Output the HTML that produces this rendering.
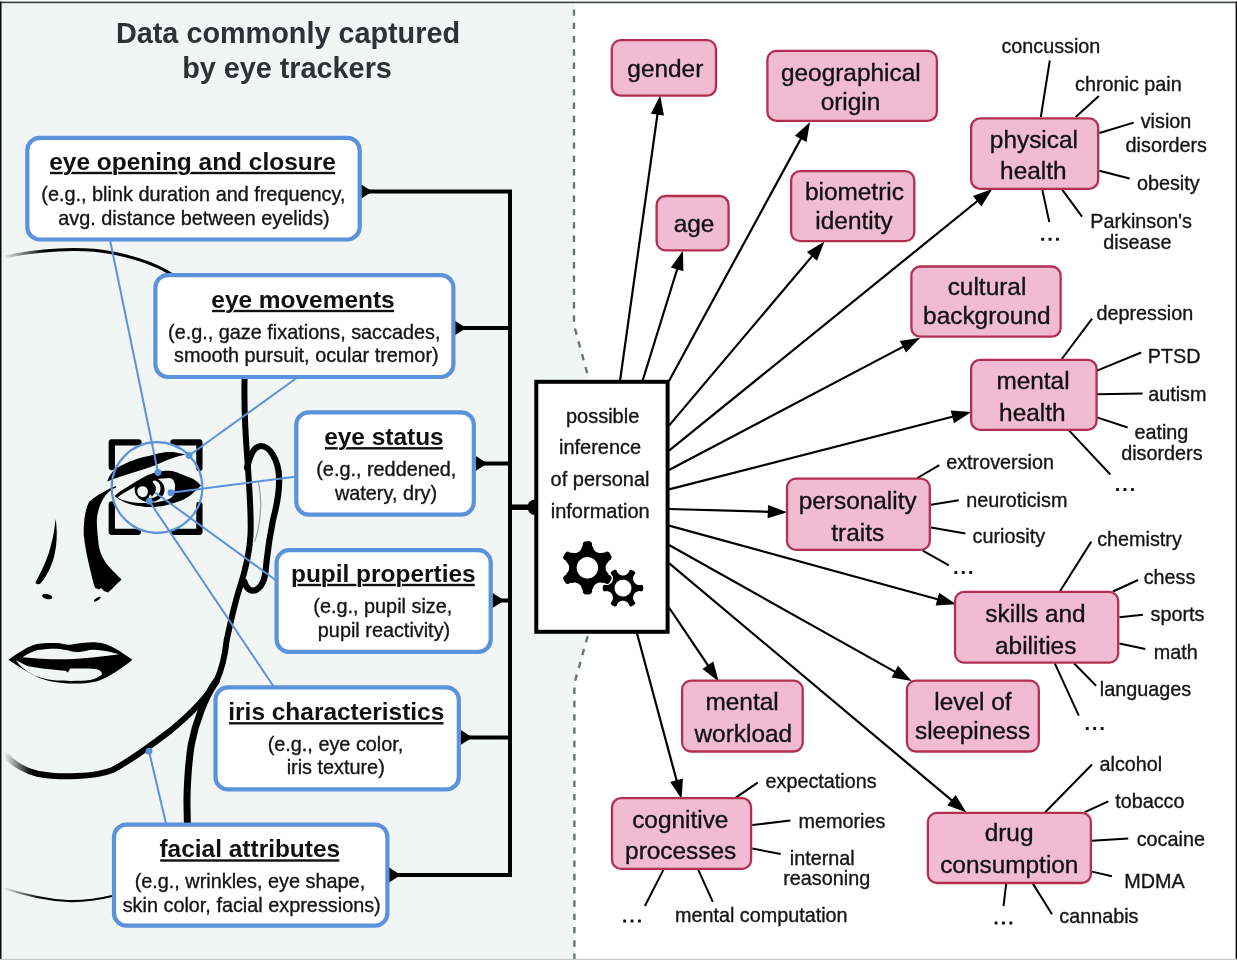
<!DOCTYPE html>
<html><head><meta charset="utf-8"><title>Eye tracking inference diagram</title>
<style>
html,body{margin:0;padding:0;background:#fff;}
body{width:1237px;height:960px;overflow:hidden;}
svg{display:block;font-family:"Liberation Sans", sans-serif;will-change:transform;}
</style></head>
<body>
<svg width="1237" height="960" viewBox="0 0 1237 960">
<defs>
<linearGradient id="fadeL" gradientUnits="userSpaceOnUse" x1="3" y1="0" x2="45" y2="0"><stop offset="0" stop-color="#000" stop-opacity="0"/><stop offset="1" stop-color="#000"/></linearGradient>
<linearGradient id="fadeL2" gradientUnits="userSpaceOnUse" x1="4" y1="0" x2="32" y2="0"><stop offset="0" stop-color="#000" stop-opacity="0"/><stop offset="1" stop-color="#000"/></linearGradient>
<linearGradient id="fadeL3" gradientUnits="userSpaceOnUse" x1="3" y1="0" x2="40" y2="0"><stop offset="0" stop-color="#000" stop-opacity="0"/><stop offset="1" stop-color="#000"/></linearGradient>
</defs>
<rect x="0" y="0" width="1237" height="960" fill="#ffffff"/>
<path d="M0,3 H574 V325 L587.6,375 V636 L574.4,683 V960 H0 Z" fill="#f1f5f4"/>
<path d="M574,9.4 V325 L587.6,374.5" fill="none" stroke="#647777" stroke-width="2.4" stroke-dasharray="6.4 6.9"/>
<path d="M587.7,636.2 L574.4,683.5 V960" fill="none" stroke="#647777" stroke-width="2.4" stroke-dasharray="6.4 6.9"/>
<text x="288.0" y="43.3" font-size="28.8" font-weight="bold" fill="#2b3336" text-anchor="middle">Data commonly captured</text>
<text x="287.0" y="77.7" font-size="28.8" font-weight="bold" fill="#2b3336" text-anchor="middle">by eye trackers</text>
<g><path d="M5,257 C35,250 80,246.5 113,253 C140,258.5 160,266 174,276" fill="none" stroke="url(#fadeL)" stroke-width="2.9"/><path d="M244.6,378 C244,400 245,430 247.5,461 C249.5,490 251.5,515 250.5,535 C249.5,555 245,572 239,590 C234,606 230,625 226.7,640 C225,656 221.5,670 216.5,681 C209,694 192,713 170,731 C150,746 132,760 112.5,770 C95,777 60,778 37.5,773.7 C25,771 12,763 4,754" fill="none" stroke="url(#fadeL2)" stroke-width="6" stroke-linecap="round"/><path d="M216,681.5 C205,697 195.5,722 191.2,745 C188.4,762 186.8,790 187,805 L187.4,825" fill="none" stroke="#000" stroke-width="7" stroke-linecap="round"/><path d="M247,468 C250,455 254,446 261,446 C270,446 278,460 279,476 C280,492 277,505 273,520 C270,535 268,548 266.5,562 C265.5,575 264.5,585 256,590 C250,592 246,588 244.5,582" fill="none" stroke="#000" stroke-width="6.2" stroke-linecap="round"/><path d="M258.4,481 C261,495 261,505 260.4,512 C259.5,525 257,535 254.5,542.3" fill="none" stroke="#9aa3a3" stroke-width="1.2"/><path d="M3,888 C25,895 45,900 68,901 C85,901.5 100,899 112,896" fill="none" stroke="url(#fadeL3)" stroke-width="2.2"/><path d="M116,486 C108,489 96,495.5 89,502 C85,510 83.5,522 83.7,534.2 C85,548 88,561 91,573 C92.5,580 94,585 95.2,588 L99,589.5 L101,588 L104,591 L108,592.4 L112,589 C116,585 119,582 121.6,579.6 C115,573 109,567 106.7,564 C101,556 98.6,548 98.3,541 C97.5,533 96.6,525 96.9,519.2 C97.4,512 99.5,505 103.3,498.8 C106,494 110,490 116,487.6 Z" fill="#000"/><path d="M55.6,519 C57.5,530 57.2,545 54,557 C51,568 46,577 40.5,583.5 C38.5,584.5 36,584.5 35.5,582.5 C40,574 45,564 48.5,554 C52,543 54.5,531 55.6,519 Z" fill="#000"/><ellipse cx="47.2" cy="596.6" rx="5.2" ry="2.4" transform="rotate(14 47.2 596.6)" fill="#000"/><ellipse cx="97.3" cy="599.2" rx="4" ry="1.3" transform="rotate(-32 97.3 599.2)" fill="#000"/><path d="M8.5,659.7 C20,652 29,645.5 37.3,644.1 C45,642.5 52,643 56.6,643 C62,643 66,645.3 70.2,644.7 C80,643.5 88,641.8 96.2,642.4 C110,643 121,652 132.4,659.7 C122,668 110,677 96.2,681.5 C85,684 75,683.6 67.9,683.4 C55,683 42,680 34,675.3 C24,670 15,664 8.5,659.7 Z" fill="#000"/><path d="M22.6,657.3 C30,652.5 35,650.3 39.6,649.8 C45,649.1 50,648.6 56.6,648.7 C65,649 72,652.1 79.2,652.1 C85,651.6 89,649.5 93.9,649.8 C105,650.5 113,652.5 118.8,654.3 C100,656.7 85,658.6 67.9,659.3 C50,659.5 35,658.6 22.6,657.3 Z" fill="#f1f5f4"/><path d="M15.8,660.2 C21,662.5 25,665 28.3,666.3 C40,668.6 55,670 65.6,670.8 L67.9,672.6 L70.2,668.6 C80,668.5 90,668.5 96.2,669.1 C100,670 102.3,672 101.9,674.7 C98,677.4 94,679.3 90.5,680 C80,681.2 65,681 56.6,680.5 C45,679.4 37,676.8 32.2,674.2 C25,670.5 19.5,665.5 15.8,660.2 Z" fill="#f1f5f4"/><path d="M111.8,467 V442.4 H138.5 M173.5,442.4 H199.4 V468 M111.8,504.5 V531.8 H138 M174,531.8 H199.4 V505" fill="none" stroke="#000" stroke-width="6.3" stroke-linejoin="round" stroke-linecap="round"/><path d="M107.2,481.4 C108.2,478.5 109.6,475.8 111.3,473.6 C113,471.2 115,469.2 117.1,467.8 C119.5,466.3 122,465 124.4,463.9 C127.6,462.5 130.8,461.1 134.1,460 C137.3,458.9 140.5,457.9 143.8,457.1 C147,456.3 150.2,455.4 153.5,454.7 C157.3,453.8 161.1,452.8 165,452.3 C168.7,451.9 172.3,451.9 176,452.4 C179.3,452.9 182.6,453.6 185.7,454.6 C182.2,455.6 178.6,456.2 175,457.2 C171.6,458.3 168.3,459.7 165,461 C161.2,462.7 157.4,464.5 153.5,465.9 C147.1,468.2 140.6,470.2 134.1,472.2 C129.4,473.7 124.7,475.3 120,476.8 C115.8,478.2 111.5,479.7 107.2,481.4 Z" fill="#000"/><path d="M114.5,496 C116.5,494.2 118.2,492.8 120,491.5 C122.5,489.8 125.3,488.2 128,486.5 C130.8,484.8 133.4,483.1 136,481.5 C139,479.7 142,478 145,476.5 C148.8,474.6 152.6,473.2 156.6,472.3 C160.6,471.3 164.6,470.6 168.7,470.7 C172.9,470.9 176.9,472.3 180.8,474 C185,475.7 189.1,477.1 193,478.8 C195.8,480.7 198.4,483 201,485.4 C198,488.4 195,491.4 192,494 C188.3,497.1 184.3,499.4 180,501 C175.1,502.8 170.1,504.4 165,505.5 C160,506.5 155,507.1 150,507 C145,507 140,506.4 135,505.5 C131.1,504.6 127.5,503.4 124,502 C120.6,500.3 117.4,498.3 114.5,496 Z" fill="#000"/><path d="M117.8,497.2 C119.4,496 121.2,494.7 123,493.5 C125.3,492.1 127.7,490.8 130,489.5 C132.3,488.2 134.7,487 137,485.8 L150,480 C154.3,479.3 158.7,478.7 163,478.5 C165,478.3 167,478 169,478 C171,478.2 172.6,479 173.5,480.5 C175,483 175.3,485.5 175,488 C174.7,490.8 174,493.5 173,496 C171.6,497.6 170,498.7 168,499.5 C163.7,500.9 159.4,501.9 155,502.5 C150,503 145,503.2 140,503 C135.9,502.8 131.9,502.3 128,501.5 C125.6,501 123.3,500.3 121,499.5 C119.9,498.8 118.8,498 117.8,497.2 Z" fill="#f1f5f4"/><ellipse cx="149.6" cy="489.6" rx="15" ry="12.6" fill="#000"/><path d="M137.4,490.2 C138.3,486.8 141.2,485.6 144.2,486.4 C147.4,487.4 148.4,490.6 147.6,493.6 C146.8,496.4 144.6,497.6 142,497 C138.8,496.2 136.6,493.4 137.4,490.2 Z" fill="#f1f5f4"/><path d="M154.2,480.6 C158.4,481.2 160.8,484.8 160.5,489 C160.2,493 158,496.2 153.8,497.8 C152.2,498.2 151.2,497.2 152.4,496.1 C155.2,493.6 156.2,490.6 155.8,487.6 C155.4,485.2 154.2,483.6 152.9,482.6 C152.5,481.3 153.1,480.5 154.2,480.6 Z" fill="#f1f5f4"/><path d="M150.2,494.5 C151.5,495.5 152.3,496.8 151.8,498 C151,499 149.6,498.8 148.8,498 C148.4,497 149.2,495.4 150.2,494.5 Z" fill="#f1f5f4"/></g>
<g stroke="#5b92dc" stroke-width="2" fill="none">
<circle cx="157" cy="487.5" r="45.3" stroke-width="2.2"/>
<line x1="110" y1="240" x2="158" y2="472.5"/>
<line x1="296.6" y1="378" x2="189.1" y2="455.5"/>
<line x1="295" y1="476.7" x2="170.9" y2="492.7"/>
<line x1="155.5" y1="492.7" x2="275.5" y2="580"/>
<line x1="149.3" y1="501.2" x2="273.3" y2="686"/>
<line x1="149" y1="751.2" x2="165.9" y2="823"/>
</g>
<g fill="#5b92dc">
<circle cx="158" cy="472.5" r="3.4"/>
<circle cx="189.1" cy="455.5" r="3.4"/>
<circle cx="170.9" cy="492.7" r="3.4"/>
<circle cx="149.3" cy="501.2" r="3.4"/>
<circle cx="149" cy="751.2" r="3.4"/>
</g>
<g stroke="#000" stroke-width="4" fill="none">
<path d="M361,191.5 H510 V875 H389"/>
<line x1="455" y1="328" x2="510" y2="328"/>
<line x1="476" y1="463.4" x2="510" y2="463.4"/>
<line x1="493" y1="600.5" x2="510" y2="600.5"/>
<line x1="461" y1="737.4" x2="510" y2="737.4"/>
<line x1="510" y1="507.2" x2="534" y2="507.2" stroke-width="5.5"/>
</g>
<g fill="#000">
<path d="M360.5,183.9 L372.3,191.5 L360.5,199.1 Z"/>
<path d="M454.5,320.4 L466.3,328 L454.5,335.6 Z"/>
<path d="M475.5,455.79999999999995 L487.3,463.4 L475.5,471.0 Z"/>
<path d="M492.5,592.9 L504.3,600.5 L492.5,608.1 Z"/>
<path d="M460.5,729.8 L472.3,737.4 L460.5,745.0 Z"/>
<path d="M389.0,867.4 L400.8,875 L389.0,882.6 Z"/>
<path d="M535,499.5 A7.7,7.7 0 0 0 535,514.9 Z"/>
</g>
<rect x="27.3" y="137.8" width="332.4" height="101.7" rx="12.5" fill="#fff" stroke="#5b92dc" stroke-width="4.2"/>
<rect x="50.0" y="171.8" width="285.1" height="2.4" fill="#111"/>
<text x="192.5" y="169.6" font-size="24.45" font-weight="bold" fill="#111" text-anchor="middle" stroke="#fff" stroke-width="2.6" paint-order="stroke" stroke-linejoin="round">eye opening and closure</text>
<text x="193.4" y="200.7" font-size="19.85" font-weight="normal" fill="#151515" text-anchor="middle" stroke="#151515" stroke-width="0.35">(e.g., blink duration and frequency,</text>
<text x="194.0" y="224.9" font-size="19.85" font-weight="normal" fill="#151515" text-anchor="middle" stroke="#151515" stroke-width="0.35">avg. distance between eyelids)</text>
<rect x="155.4" y="275.1" width="298.0" height="101.9" rx="12.5" fill="#fff" stroke="#5b92dc" stroke-width="4.2"/>
<rect x="212.1" y="309.8" width="181.9" height="2.4" fill="#111"/>
<text x="303.0" y="307.6" font-size="24.45" font-weight="bold" fill="#111" text-anchor="middle" stroke="#fff" stroke-width="2.6" paint-order="stroke" stroke-linejoin="round">eye movements</text>
<text x="304.3" y="339.1" font-size="19.85" font-weight="normal" fill="#151515" text-anchor="middle" stroke="#151515" stroke-width="0.35">(e.g., gaze fixations, saccades,</text>
<text x="306.3" y="362.4" font-size="19.85" font-weight="normal" fill="#151515" text-anchor="middle" stroke="#151515" stroke-width="0.35">smooth pursuit, ocular tremor)</text>
<rect x="296.3" y="412.3" width="177.5" height="102.4" rx="12.5" fill="#fff" stroke="#5b92dc" stroke-width="4.2"/>
<rect x="324.9" y="447.1" width="118.0" height="2.4" fill="#111"/>
<text x="383.9" y="444.9" font-size="24.45" font-weight="bold" fill="#111" text-anchor="middle" stroke="#fff" stroke-width="2.6" paint-order="stroke" stroke-linejoin="round">eye status</text>
<text x="386.3" y="475.9" font-size="19.85" font-weight="normal" fill="#151515" text-anchor="middle" stroke="#151515" stroke-width="0.35">(e.g., reddened,</text>
<text x="386.0" y="500.1" font-size="19.85" font-weight="normal" fill="#151515" text-anchor="middle" stroke="#151515" stroke-width="0.35">watery, dry)</text>
<rect x="276.6" y="550.2" width="214.1" height="101.7" rx="12.5" fill="#fff" stroke="#5b92dc" stroke-width="4.2"/>
<rect x="291.7" y="583.8" width="183.1" height="2.4" fill="#111"/>
<text x="383.3" y="581.6" font-size="24.45" font-weight="bold" fill="#111" text-anchor="middle" stroke="#fff" stroke-width="2.6" paint-order="stroke" stroke-linejoin="round">pupil properties</text>
<text x="382.8" y="612.6" font-size="19.85" font-weight="normal" fill="#151515" text-anchor="middle" stroke="#151515" stroke-width="0.35">(e.g., pupil size,</text>
<text x="384.0" y="636.7" font-size="19.85" font-weight="normal" fill="#151515" text-anchor="middle" stroke="#151515" stroke-width="0.35">pupil reactivity)</text>
<rect x="215.5" y="687.3" width="243.3" height="102.1" rx="12.5" fill="#fff" stroke="#5b92dc" stroke-width="4.2"/>
<rect x="229.0" y="722.1" width="214.5" height="2.4" fill="#111"/>
<text x="336.3" y="719.9" font-size="24.45" font-weight="bold" fill="#111" text-anchor="middle" stroke="#fff" stroke-width="2.6" paint-order="stroke" stroke-linejoin="round">iris characteristics</text>
<text x="335.5" y="750.9" font-size="19.85" font-weight="normal" fill="#151515" text-anchor="middle" stroke="#151515" stroke-width="0.35">(e.g., eye color,</text>
<text x="335.7" y="774.1" font-size="19.85" font-weight="normal" fill="#151515" text-anchor="middle" stroke="#151515" stroke-width="0.35">iris texture)</text>
<rect x="114.0" y="824.6" width="273.4" height="101.1" rx="12.5" fill="#fff" stroke="#5b92dc" stroke-width="4.2"/>
<rect x="160.2" y="859.3" width="179.1" height="2.4" fill="#111"/>
<text x="249.8" y="857.1" font-size="24.45" font-weight="bold" fill="#111" text-anchor="middle" stroke="#fff" stroke-width="2.6" paint-order="stroke" stroke-linejoin="round">facial attributes</text>
<text x="249.9" y="888.4" font-size="19.85" font-weight="normal" fill="#151515" text-anchor="middle" stroke="#151515" stroke-width="0.35">(e.g., wrinkles, eye shape,</text>
<text x="251.7" y="912.4" font-size="19.85" font-weight="normal" fill="#151515" text-anchor="middle" stroke="#151515" stroke-width="0.35">skin color, facial expressions)</text>
<rect x="536.3" y="381.8" width="131.3" height="250" fill="#fff" stroke="#000" stroke-width="4"/>
<text x="602.6" y="422.7" font-size="20" font-weight="normal" fill="#151515" text-anchor="middle" stroke="#151515" stroke-width="0.35">possible</text>
<text x="600.1" y="454.3" font-size="20" font-weight="normal" fill="#151515" text-anchor="middle" stroke="#151515" stroke-width="0.35">inference</text>
<text x="600.0" y="486.3" font-size="20" font-weight="normal" fill="#151515" text-anchor="middle" stroke="#151515" stroke-width="0.35">of personal</text>
<text x="600.2" y="517.9" font-size="20" font-weight="normal" fill="#151515" text-anchor="middle" stroke="#151515" stroke-width="0.35">information</text>
<path d="M566.1,560.8 L566.2,561.0 L566.3,561.2 L566.3,561.4 L566.2,561.8 L567.1,562.6 L567.8,563.4 L568.3,564.2 L568.7,565.1 L568.9,565.8 L569.1,566.8 L569.2,567.8 L569.1,568.8 L568.9,570.0 L568.4,571.2 L568.0,571.8 L567.5,572.6 L567.0,573.2 L566.2,573.8 L566.4,574.3 L566.2,574.6 L566.1,574.8 L564.7,575.6 L564.2,576.0 L563.8,576.4 L563.5,576.9 L563.2,577.7 L563.2,578.3 L563.3,579.2 L563.6,579.7 L565.2,582.5 L565.5,583.0 L566.2,583.5 L567.0,583.9 L567.9,584.0 L568.7,583.8 L569.3,583.6 L570.7,582.8 L570.8,582.7 L571.0,582.7 L571.2,582.8 L571.6,583.1 L572.3,582.9 L573.0,582.7 L573.8,582.6 L574.5,582.5 L575.5,582.6 L576.7,582.9 L577.6,583.2 L578.7,583.8 L579.5,584.4 L580.1,585.0 L580.7,585.7 L581.1,586.4 L581.4,587.0 L581.7,587.7 L581.9,588.4 L582.0,589.1 L582.5,589.3 L582.7,589.4 L582.8,589.6 L582.8,591.7 L583.0,592.6 L583.3,593.1 L583.7,593.5 L584.1,593.9 L584.7,594.2 L585.2,594.3 L585.8,594.4 L589.3,594.4 L590.1,594.2 L590.9,593.7 L591.5,593.1 L591.9,592.3 L592.0,591.7 L592.0,589.8 L592.0,589.6 L592.1,589.4 L592.3,589.3 L592.8,589.1 L592.9,588.4 L593.1,587.7 L593.4,587.0 L593.7,586.4 L594.3,585.5 L594.9,584.8 L595.9,584.0 L596.7,583.4 L597.6,583.0 L598.6,582.7 L599.6,582.6 L600.6,582.5 L601.8,582.7 L602.5,582.9 L603.2,583.1 L603.6,582.8 L603.8,582.7 L604.0,582.7 L604.1,582.8 L605.5,583.6 L606.1,583.8 L606.9,584.0 L607.8,583.9 L608.6,583.5 L609.3,583.0 L609.6,582.5 L611.4,579.4 L611.6,578.6 L611.6,578.0 L611.5,577.4 L611.3,576.9 L611.0,576.4 L610.6,576.0 L610.1,575.6 L608.6,574.7 L608.5,574.5 L608.4,574.3 L608.6,573.8 L608.0,573.3 L607.5,572.8 L606.8,571.8 L606.3,570.9 L605.9,570.0 L605.7,569.0 L605.6,567.8 L605.7,566.8 L605.9,565.6 L606.3,564.7 L606.8,563.8 L607.5,562.8 L608.0,562.3 L608.6,561.8 L608.4,561.3 L608.5,561.1 L608.6,560.9 L610.1,560.0 L610.6,559.6 L611.0,559.2 L611.3,558.7 L611.5,558.2 L611.6,557.3 L611.5,556.4 L611.2,555.9 L609.6,553.1 L609.3,552.6 L608.6,552.1 L607.8,551.7 L606.9,551.6 L606.1,551.8 L605.5,552.0 L604.1,552.8 L604.0,552.9 L603.8,552.9 L603.6,552.8 L603.2,552.5 L602.5,552.7 L601.8,552.9 L601.0,553.0 L600.3,553.1 L599.3,553.0 L598.1,552.7 L596.9,552.3 L596.1,551.8 L595.3,551.2 L594.7,550.6 L594.1,549.9 L593.7,549.2 L593.4,548.6 L593.1,547.9 L592.9,547.2 L592.8,546.5 L592.3,546.3 L592.1,546.2 L592.0,546.0 L592.0,543.9 L591.8,543.0 L591.5,542.5 L591.1,542.1 L590.7,541.7 L590.1,541.4 L589.6,541.3 L589.0,541.2 L585.5,541.2 L584.7,541.4 L583.9,541.9 L583.3,542.5 L582.9,543.3 L582.8,543.9 L582.8,545.8 L582.8,546.0 L582.7,546.2 L582.5,546.3 L582.0,546.5 L581.9,547.2 L581.7,547.9 L581.4,548.6 L581.1,549.3 L580.4,550.3 L579.5,551.2 L578.7,551.8 L577.6,552.4 L576.7,552.7 L576.0,552.9 L575.3,553.0 L574.5,553.1 L573.8,553.0 L573.0,552.9 L572.3,552.7 L571.6,552.5 L571.2,552.8 L571.0,552.9 L570.8,552.9 L569.0,551.9 L568.1,551.6 L567.6,551.6 L567.0,551.7 L566.4,551.9 L565.9,552.2 L565.3,552.9 L563.6,555.9 L563.2,556.7 L563.2,557.3 L563.2,557.9 L563.4,558.4 L563.6,559.0 L563.8,559.2 L564.4,559.8ZM598.1,568.1 L598.0,569.1 L597.8,570.1 L597.6,571.1 L597.2,572.1 L596.7,573.1 L596.2,574.0 L595.5,574.8 L594.8,575.5 L594.0,576.2 L593.1,576.8 L592.2,577.4 L591.3,577.8 L590.3,578.1 L589.2,578.3 L588.2,578.5 L587.1,578.5 L586.1,578.4 L585.1,578.2 L584.1,578.0 L583.1,577.6 L582.1,577.1 L581.2,576.6 L580.4,575.9 L579.7,575.2 L579.0,574.4 L578.4,573.5 L577.8,572.6 L577.4,571.7 L577.1,570.7 L576.9,569.6 L576.7,568.6 L576.7,567.5 L576.8,566.5 L577.0,565.5 L577.2,564.5 L577.6,563.5 L578.1,562.5 L578.6,561.6 L579.3,560.8 L580.0,560.1 L580.8,559.4 L581.7,558.8 L582.6,558.2 L583.5,557.8 L584.5,557.5 L585.6,557.3 L586.6,557.1 L587.7,557.1 L588.7,557.2 L589.7,557.4 L590.7,557.6 L591.7,558.0 L592.7,558.5 L593.6,559.0 L594.4,559.7 L595.1,560.4 L595.8,561.2 L596.4,562.1 L597.0,563.0 L597.4,563.9 L597.7,564.9 L597.9,566.0 L598.1,567.0Z" fill="#000" fill-rule="evenodd"/>
<path d="M604.3,584.8 L603.9,585.0 L603.3,585.5 L603.1,585.9 L602.8,586.5 L602.8,587.0 L602.8,589.4 L602.9,589.9 L603.1,590.3 L603.3,590.7 L603.7,591.1 L604.3,591.4 L605.5,591.2 L606.6,591.1 L607.7,591.2 L608.3,591.4 L608.9,591.6 L609.7,592.0 L610.4,592.5 L611.2,593.2 L611.7,593.8 L612.3,594.8 L612.5,595.4 L612.7,596.0 L612.9,597.1 L613.0,597.7 L612.9,598.3 L612.7,599.4 L612.5,600.0 L612.3,600.6 L612.0,601.2 L611.6,601.7 L610.8,602.6 L610.8,603.1 L610.8,603.6 L611.1,604.2 L611.4,604.6 L611.7,604.9 L614.1,606.2 L614.7,606.4 L615.2,606.5 L615.7,606.4 L616.1,606.2 L616.5,605.9 L616.9,604.8 L617.2,604.2 L617.5,603.6 L618.2,602.8 L618.7,602.3 L619.1,601.9 L619.9,601.5 L620.7,601.1 L621.7,600.8 L622.6,600.7 L623.7,600.7 L624.3,600.8 L624.9,601.0 L625.9,601.4 L626.5,601.7 L627.0,602.1 L627.8,602.8 L628.2,603.3 L628.6,603.8 L629.1,604.8 L629.5,605.9 L630.1,606.3 L630.8,606.5 L631.3,606.4 L631.7,606.3 L632.2,606.1 L634.0,605.0 L634.6,604.6 L634.9,604.2 L635.2,603.6 L635.3,602.9 L635.2,602.6 L634.4,601.7 L633.8,600.8 L633.4,599.8 L633.1,598.8 L633.0,597.7 L633.1,597.1 L633.2,596.4 L633.4,595.4 L633.9,594.4 L634.5,593.5 L635.0,593.0 L635.4,592.6 L636.3,592.0 L637.3,591.5 L638.3,591.2 L639.4,591.1 L640.5,591.2 L641.7,591.4 L641.9,591.3 L642.3,591.1 L642.8,590.5 L643.1,589.9 L643.2,589.4 L643.2,587.0 L643.2,586.5 L642.9,585.9 L642.7,585.5 L642.3,585.1 L641.7,584.8 L640.5,585.0 L639.4,585.1 L638.3,585.0 L637.3,584.7 L636.3,584.2 L635.4,583.6 L634.7,582.8 L634.0,582.0 L633.5,581.0 L633.3,580.4 L633.2,579.8 L633.0,578.7 L633.1,577.6 L633.3,576.6 L633.5,576.0 L633.8,575.4 L634.4,574.5 L635.2,573.6 L635.2,573.1 L635.2,572.6 L634.9,572.0 L634.6,571.6 L634.3,571.3 L631.9,570.0 L631.3,569.8 L630.8,569.7 L630.3,569.8 L629.9,570.0 L629.5,570.3 L629.1,571.4 L628.8,572.0 L628.5,572.6 L628.1,573.1 L627.7,573.6 L626.8,574.3 L625.9,574.8 L625.1,575.2 L624.1,575.4 L623.2,575.5 L622.1,575.4 L621.5,575.3 L620.9,575.2 L619.9,574.7 L619.0,574.1 L618.2,573.4 L617.5,572.6 L617.2,572.0 L616.9,571.4 L616.5,570.3 L616.3,570.1 L615.7,569.8 L615.0,569.7 L614.5,569.8 L613.8,570.1 L612.0,571.2 L611.6,571.4 L611.2,571.8 L611.0,572.2 L610.8,572.8 L610.8,573.6 L611.6,574.5 L612.2,575.4 L612.5,576.0 L612.7,576.6 L612.9,577.6 L613.0,578.3 L613.0,578.9 L612.8,580.0 L612.6,580.6 L612.4,581.2 L611.9,582.2 L611.2,583.0 L610.4,583.7 L609.5,584.3 L608.5,584.7 L607.5,585.0 L606.4,585.1 L605.3,585.0ZM631.4,588.3 L631.3,589.1 L631.2,589.9 L631.0,590.7 L630.7,591.5 L630.3,592.2 L629.9,592.9 L629.4,593.6 L628.8,594.2 L628.2,594.7 L627.5,595.2 L626.8,595.6 L626.0,595.9 L625.2,596.2 L624.4,596.4 L623.6,596.5 L622.8,596.5 L622.0,596.4 L621.2,596.3 L620.4,596.1 L619.6,595.8 L618.9,595.4 L618.2,595.0 L617.5,594.5 L616.9,593.9 L616.4,593.3 L615.9,592.6 L615.5,591.9 L615.2,591.1 L614.9,590.3 L614.7,589.5 L614.6,588.7 L614.6,587.9 L614.7,587.1 L614.8,586.3 L615.0,585.5 L615.3,584.7 L615.7,584.0 L616.1,583.3 L616.6,582.6 L617.2,582.0 L617.8,581.5 L618.5,581.0 L619.2,580.6 L620.0,580.3 L620.8,580.0 L621.6,579.8 L622.4,579.7 L623.2,579.7 L624.0,579.8 L624.8,579.9 L625.6,580.1 L626.4,580.4 L627.1,580.8 L627.8,581.2 L628.5,581.7 L629.1,582.3 L629.6,582.9 L630.1,583.6 L630.5,584.3 L630.8,585.1 L631.1,585.9 L631.3,586.7 L631.4,587.5Z" fill="#000" fill-rule="evenodd" stroke="#fff" stroke-width="1.4" paint-order="stroke"/>
<line x1="620" y1="381" x2="657.7" y2="112.6" stroke="#000" stroke-width="2.2"/>
<path d="M660.2,95.3 L664.0,115.5 L650.9,113.7 Z" fill="#000"/>
<line x1="642.5" y1="381" x2="677.7" y2="267.5" stroke="#000" stroke-width="2.2"/>
<path d="M682.9,250.8 L683.4,271.3 L670.8,267.4 Z" fill="#000"/>
<line x1="669" y1="381" x2="801.7" y2="137.2" stroke="#000" stroke-width="2.2"/>
<path d="M810.0,121.9 L806.5,142.1 L794.9,135.8 Z" fill="#000"/>
<line x1="669" y1="425.6" x2="813.2" y2="254.9" stroke="#000" stroke-width="2.2"/>
<path d="M824.5,241.5 L817.0,260.7 L806.9,252.1 Z" fill="#000"/>
<line x1="669" y1="450.6" x2="978.7" y2="200.0" stroke="#000" stroke-width="2.2"/>
<path d="M992.3,189.0 L981.3,206.4 L973.0,196.1 Z" fill="#000"/>
<line x1="669" y1="470" x2="904.7" y2="345.9" stroke="#000" stroke-width="2.2"/>
<path d="M920.2,337.7 L906.0,352.6 L899.8,340.9 Z" fill="#000"/>
<line x1="669" y1="489.4" x2="954.3" y2="416.3" stroke="#000" stroke-width="2.2"/>
<path d="M971.3,412.0 L954.0,423.2 L950.7,410.4 Z" fill="#000"/>
<line x1="669" y1="509" x2="769.8" y2="511.8" stroke="#000" stroke-width="2.2"/>
<path d="M787.3,512.2 L767.6,518.3 L768.0,505.1 Z" fill="#000"/>
<line x1="669" y1="525.6" x2="939.3" y2="599.7" stroke="#000" stroke-width="2.2"/>
<path d="M956.2,604.3 L935.6,605.6 L939.1,592.8 Z" fill="#000"/>
<line x1="669" y1="545" x2="896.5" y2="672.6" stroke="#000" stroke-width="2.2"/>
<path d="M911.7,681.1 L891.5,677.4 L898.0,665.8 Z" fill="#000"/>
<line x1="669" y1="563.1" x2="953.0" y2="801.4" stroke="#000" stroke-width="2.2"/>
<path d="M966.4,812.6 L947.2,805.2 L955.7,795.0 Z" fill="#000"/>
<line x1="669" y1="607.5" x2="709.0" y2="666.9" stroke="#000" stroke-width="2.2"/>
<path d="M718.7,681.4 L702.4,668.9 L713.3,661.5 Z" fill="#000"/>
<line x1="636.9" y1="633" x2="677.1" y2="782.2" stroke="#000" stroke-width="2.2"/>
<path d="M681.6,799.1 L670.2,781.9 L682.9,778.5 Z" fill="#000"/>
<g stroke="#000" stroke-width="2" fill="none">
<line x1="1049.8" y1="60.5" x2="1040.8" y2="117"/>
<line x1="1098.9" y1="95.9" x2="1075.7" y2="117"/>
<line x1="1133.7" y1="122.6" x2="1099.4" y2="133"/>
<line x1="1099.4" y1="170.8" x2="1129.6" y2="178.5"/>
<line x1="1062" y1="189.4" x2="1082" y2="216.6"/>
<line x1="1042.2" y1="189.4" x2="1049.3" y2="222"/>
<line x1="1092.1" y1="318.7" x2="1061.8" y2="359"/>
<line x1="1141.2" y1="352.5" x2="1097" y2="370.6"/>
<line x1="1097" y1="394.3" x2="1142.6" y2="393.4"/>
<line x1="1097" y1="417.4" x2="1127.6" y2="427.5"/>
<line x1="1069" y1="430.4" x2="1110.3" y2="474.5"/>
<line x1="939.3" y1="465.2" x2="917.4" y2="478"/>
<line x1="931" y1="504.7" x2="958.8" y2="500.2"/>
<line x1="931" y1="527.4" x2="965.4" y2="533.5"/>
<line x1="922.8" y1="550.6" x2="948.9" y2="565.3"/>
<line x1="1091.3" y1="541.6" x2="1060" y2="591.3"/>
<line x1="1138.1" y1="580" x2="1112.9" y2="591.5"/>
<line x1="1119.4" y1="617.2" x2="1142.9" y2="614.8"/>
<line x1="1119.4" y1="643.6" x2="1145.3" y2="648.9"/>
<line x1="1074" y1="663.3" x2="1096.1" y2="685.7"/>
<line x1="1054.8" y1="663.3" x2="1078.8" y2="715.7"/>
<line x1="757.7" y1="782.6" x2="735.8" y2="797.6"/>
<line x1="752.3" y1="825" x2="790.4" y2="820.6"/>
<line x1="752.3" y1="848.5" x2="780.7" y2="854.1"/>
<line x1="698.2" y1="869.6" x2="712.8" y2="901.9"/>
<line x1="663.5" y1="869.6" x2="644.9" y2="906"/>
<line x1="1092" y1="764.5" x2="1045.2" y2="812.2"/>
<line x1="1108.4" y1="801.3" x2="1084.7" y2="812.2"/>
<line x1="1092" y1="840.8" x2="1128.3" y2="838.6"/>
<line x1="1092" y1="871.6" x2="1111.9" y2="876.2"/>
<line x1="1032.9" y1="883.6" x2="1052" y2="914.3"/>
<line x1="1006.2" y1="883.6" x2="1003.5" y2="906.2"/>
</g>
<rect x="611.8" y="40.1" width="104.2" height="55.6" rx="9" fill="#f1bbd1" stroke="#b22f52" stroke-width="2.3"/>
<text x="665.3" y="77.0" font-size="24.4" font-weight="normal" fill="#111" text-anchor="middle" stroke="#111" stroke-width="0.35">gender</text>
<rect x="767.4" y="50.9" width="169.5" height="69.9" rx="9" fill="#f1bbd1" stroke="#b22f52" stroke-width="2.3"/>
<text x="850.8" y="81.2" font-size="24.4" font-weight="normal" fill="#111" text-anchor="middle" stroke="#111" stroke-width="0.35">geographical</text>
<text x="850.5" y="109.6" font-size="24.4" font-weight="normal" fill="#111" text-anchor="middle" stroke="#111" stroke-width="0.35">origin</text>
<rect x="656.6" y="196.0" width="72.0" height="54.4" rx="9" fill="#f1bbd1" stroke="#b22f52" stroke-width="2.3"/>
<text x="694.0" y="232.0" font-size="24.4" font-weight="normal" fill="#111" text-anchor="middle" stroke="#111" stroke-width="0.35">age</text>
<rect x="791.1" y="171.2" width="123.2" height="69.9" rx="9" fill="#f1bbd1" stroke="#b22f52" stroke-width="2.3"/>
<text x="854.4" y="200.1" font-size="24.4" font-weight="normal" fill="#111" text-anchor="middle" stroke="#111" stroke-width="0.35">biometric</text>
<text x="854.0" y="228.6" font-size="24.4" font-weight="normal" fill="#111" text-anchor="middle" stroke="#111" stroke-width="0.35">identity</text>
<rect x="971.1" y="118.4" width="127.1" height="70.4" rx="9" fill="#f1bbd1" stroke="#b22f52" stroke-width="2.3"/>
<text x="1033.9" y="147.7" font-size="24.4" font-weight="normal" fill="#111" text-anchor="middle" stroke="#111" stroke-width="0.35">physical</text>
<text x="1033.3" y="178.7" font-size="24.4" font-weight="normal" fill="#111" text-anchor="middle" stroke="#111" stroke-width="0.35">health</text>
<rect x="911.4" y="266.5" width="149.2" height="70.2" rx="9" fill="#f1bbd1" stroke="#b22f52" stroke-width="2.3"/>
<text x="987.0" y="295.0" font-size="24.4" font-weight="normal" fill="#111" text-anchor="middle" stroke="#111" stroke-width="0.35">cultural</text>
<text x="986.8" y="323.8" font-size="24.4" font-weight="normal" fill="#111" text-anchor="middle" stroke="#111" stroke-width="0.35">background</text>
<rect x="971.1" y="359.8" width="125.5" height="70.0" rx="9" fill="#f1bbd1" stroke="#b22f52" stroke-width="2.3"/>
<text x="1033.0" y="388.7" font-size="24.4" font-weight="normal" fill="#111" text-anchor="middle" stroke="#111" stroke-width="0.35">mental</text>
<text x="1032.3" y="420.8" font-size="24.4" font-weight="normal" fill="#111" text-anchor="middle" stroke="#111" stroke-width="0.35">health</text>
<rect x="787.0" y="478.6" width="142.8" height="71.3" rx="9" fill="#f1bbd1" stroke="#b22f52" stroke-width="2.3"/>
<text x="857.7" y="509.3" font-size="24.4" font-weight="normal" fill="#111" text-anchor="middle" stroke="#111" stroke-width="0.35">personality</text>
<text x="857.7" y="540.5" font-size="24.4" font-weight="normal" fill="#111" text-anchor="middle" stroke="#111" stroke-width="0.35">traits</text>
<rect x="955.0" y="591.9" width="163.2" height="70.7" rx="9" fill="#f1bbd1" stroke="#b22f52" stroke-width="2.3"/>
<text x="1035.5" y="621.5" font-size="24.4" font-weight="normal" fill="#111" text-anchor="middle" stroke="#111" stroke-width="0.35">skills and</text>
<text x="1035.7" y="653.6" font-size="24.4" font-weight="normal" fill="#111" text-anchor="middle" stroke="#111" stroke-width="0.35">abilities</text>
<rect x="682.1" y="680.6" width="120.6" height="70.9" rx="9" fill="#f1bbd1" stroke="#b22f52" stroke-width="2.3"/>
<text x="742.1" y="710.2" font-size="24.4" font-weight="normal" fill="#111" text-anchor="middle" stroke="#111" stroke-width="0.35">mental</text>
<text x="743.3" y="741.9" font-size="24.4" font-weight="normal" fill="#111" text-anchor="middle" stroke="#111" stroke-width="0.35">workload</text>
<rect x="906.9" y="680.6" width="131.9" height="70.9" rx="9" fill="#f1bbd1" stroke="#b22f52" stroke-width="2.3"/>
<text x="972.9" y="710.3" font-size="24.4" font-weight="normal" fill="#111" text-anchor="middle" stroke="#111" stroke-width="0.35">level of</text>
<text x="972.6" y="738.7" font-size="24.4" font-weight="normal" fill="#111" text-anchor="middle" stroke="#111" stroke-width="0.35">sleepiness</text>
<rect x="612.0" y="798.2" width="139.1" height="70.7" rx="9" fill="#f1bbd1" stroke="#b22f52" stroke-width="2.3"/>
<text x="680.3" y="827.8" font-size="24.4" font-weight="normal" fill="#111" text-anchor="middle" stroke="#111" stroke-width="0.35">cognitive</text>
<text x="680.7" y="859.3" font-size="24.4" font-weight="normal" fill="#111" text-anchor="middle" stroke="#111" stroke-width="0.35">processes</text>
<rect x="927.9" y="812.9" width="163.0" height="70.1" rx="9" fill="#f1bbd1" stroke="#b22f52" stroke-width="2.3"/>
<text x="1009.1" y="841.3" font-size="24.4" font-weight="normal" fill="#111" text-anchor="middle" stroke="#111" stroke-width="0.35">drug</text>
<text x="1009.3" y="872.7" font-size="24.4" font-weight="normal" fill="#111" text-anchor="middle" stroke="#111" stroke-width="0.35">consumption</text>
<text x="1050.9" y="52.9" font-size="19.8" font-weight="normal" fill="#151515" text-anchor="middle" stroke="#151515" stroke-width="0.35">concussion</text>
<text x="1128.4" y="90.5" font-size="19.8" font-weight="normal" fill="#151515" text-anchor="middle" stroke="#151515" stroke-width="0.35">chronic pain</text>
<text x="1166.0" y="127.8" font-size="19.8" font-weight="normal" fill="#151515" text-anchor="middle" stroke="#151515" stroke-width="0.35">vision</text>
<text x="1166.3" y="151.8" font-size="19.8" font-weight="normal" fill="#151515" text-anchor="middle" stroke="#151515" stroke-width="0.35">disorders</text>
<text x="1168.3" y="189.9" font-size="19.8" font-weight="normal" fill="#151515" text-anchor="middle" stroke="#151515" stroke-width="0.35">obesity</text>
<text x="1141.1" y="227.8" font-size="19.8" font-weight="normal" fill="#151515" text-anchor="middle" stroke="#151515" stroke-width="0.35">Parkinson&#39;s</text>
<text x="1137.4" y="249.1" font-size="19.8" font-weight="normal" fill="#151515" text-anchor="middle" stroke="#151515" stroke-width="0.35">disease</text>
<text x="1144.8" y="320.4" font-size="19.8" font-weight="normal" fill="#151515" text-anchor="middle" stroke="#151515" stroke-width="0.35">depression</text>
<text x="1174.1" y="363.1" font-size="19.8" font-weight="normal" fill="#151515" text-anchor="middle" stroke="#151515" stroke-width="0.35">PTSD</text>
<text x="1177.3" y="400.6" font-size="19.8" font-weight="normal" fill="#151515" text-anchor="middle" stroke="#151515" stroke-width="0.35">autism</text>
<text x="1161.4" y="438.7" font-size="19.8" font-weight="normal" fill="#151515" text-anchor="middle" stroke="#151515" stroke-width="0.35">eating</text>
<text x="1161.9" y="459.5" font-size="19.8" font-weight="normal" fill="#151515" text-anchor="middle" stroke="#151515" stroke-width="0.35">disorders</text>
<text x="1000.1" y="469.1" font-size="19.8" font-weight="normal" fill="#151515" text-anchor="middle" stroke="#151515" stroke-width="0.35">extroversion</text>
<text x="1016.8" y="506.6" font-size="19.8" font-weight="normal" fill="#151515" text-anchor="middle" stroke="#151515" stroke-width="0.35">neuroticism</text>
<text x="1008.8" y="543.1" font-size="19.8" font-weight="normal" fill="#151515" text-anchor="middle" stroke="#151515" stroke-width="0.35">curiosity</text>
<text x="1139.5" y="546.3" font-size="19.8" font-weight="normal" fill="#151515" text-anchor="middle" stroke="#151515" stroke-width="0.35">chemistry</text>
<text x="1169.5" y="584.0" font-size="19.8" font-weight="normal" fill="#151515" text-anchor="middle" stroke="#151515" stroke-width="0.35">chess</text>
<text x="1177.5" y="620.7" font-size="19.8" font-weight="normal" fill="#151515" text-anchor="middle" stroke="#151515" stroke-width="0.35">sports</text>
<text x="1175.7" y="659.1" font-size="19.8" font-weight="normal" fill="#151515" text-anchor="middle" stroke="#151515" stroke-width="0.35">math</text>
<text x="1145.4" y="696.4" font-size="19.8" font-weight="normal" fill="#151515" text-anchor="middle" stroke="#151515" stroke-width="0.35">languages</text>
<text x="821.1" y="787.8" font-size="19.8" font-weight="normal" fill="#151515" text-anchor="middle" stroke="#151515" stroke-width="0.35">expectations</text>
<text x="842.0" y="827.8" font-size="19.8" font-weight="normal" fill="#151515" text-anchor="middle" stroke="#151515" stroke-width="0.35">memories</text>
<text x="822.3" y="865.4" font-size="19.8" font-weight="normal" fill="#151515" text-anchor="middle" stroke="#151515" stroke-width="0.35">internal</text>
<text x="826.7" y="885.3" font-size="19.8" font-weight="normal" fill="#151515" text-anchor="middle" stroke="#151515" stroke-width="0.35">reasoning</text>
<text x="761.3" y="922.4" font-size="19.8" font-weight="normal" fill="#151515" text-anchor="middle" stroke="#151515" stroke-width="0.35">mental computation</text>
<text x="1130.9" y="770.5" font-size="19.8" font-weight="normal" fill="#151515" text-anchor="middle" stroke="#151515" stroke-width="0.35">alcohol</text>
<text x="1149.8" y="808.4" font-size="19.8" font-weight="normal" fill="#151515" text-anchor="middle" stroke="#151515" stroke-width="0.35">tobacco</text>
<text x="1170.8" y="846.0" font-size="19.8" font-weight="normal" fill="#151515" text-anchor="middle" stroke="#151515" stroke-width="0.35">cocaine</text>
<text x="1154.4" y="888.2" font-size="19.8" font-weight="normal" fill="#151515" text-anchor="middle" stroke="#151515" stroke-width="0.35">MDMA</text>
<text x="1098.9" y="923.1" font-size="19.8" font-weight="normal" fill="#151515" text-anchor="middle" stroke="#151515" stroke-width="0.35">cannabis</text>
<g fill="#111">
<rect x="1041.2" y="237.8" width="2.9" height="3.0" rx="0.5"/>
<rect x="1048.6" y="237.8" width="2.9" height="3.0" rx="0.5"/>
<rect x="1056.0" y="237.8" width="2.9" height="3.0" rx="0.5"/>
<rect x="1116.1" y="487.9" width="2.9" height="3.0" rx="0.5"/>
<rect x="1123.5" y="487.9" width="2.9" height="3.0" rx="0.5"/>
<rect x="1131.0" y="487.9" width="2.9" height="3.0" rx="0.5"/>
<rect x="954.4" y="570.9" width="2.9" height="3.0" rx="0.5"/>
<rect x="961.8" y="570.9" width="2.9" height="3.0" rx="0.5"/>
<rect x="969.2" y="570.9" width="2.9" height="3.0" rx="0.5"/>
<rect x="1085.8" y="726.9" width="2.9" height="3.0" rx="0.5"/>
<rect x="1093.2" y="726.9" width="2.9" height="3.0" rx="0.5"/>
<rect x="1100.7" y="726.9" width="2.9" height="3.0" rx="0.5"/>
<rect x="623.2" y="919.4" width="2.9" height="3.0" rx="0.5"/>
<rect x="630.6" y="919.4" width="2.9" height="3.0" rx="0.5"/>
<rect x="638.0" y="919.4" width="2.9" height="3.0" rx="0.5"/>
<rect x="994.6" y="921.6" width="2.9" height="3.0" rx="0.5"/>
<rect x="1002.0" y="921.6" width="2.9" height="3.0" rx="0.5"/>
<rect x="1009.4" y="921.6" width="2.9" height="3.0" rx="0.5"/>
</g>
<rect x="0" y="0" width="1237" height="1.6" fill="#fafafa"/>
<rect x="0" y="1.6" width="1237" height="1.6" fill="#3b4343"/>
<rect x="0" y="1.6" width="1.5" height="960" fill="#0a0a0a"/>
<rect x="1235.6" y="1.6" width="1.4" height="960" fill="#0a0a0a"/>
<rect x="0" y="958.8" width="1237" height="1.2" fill="#c4cccc"/>
</svg>
</body></html>
